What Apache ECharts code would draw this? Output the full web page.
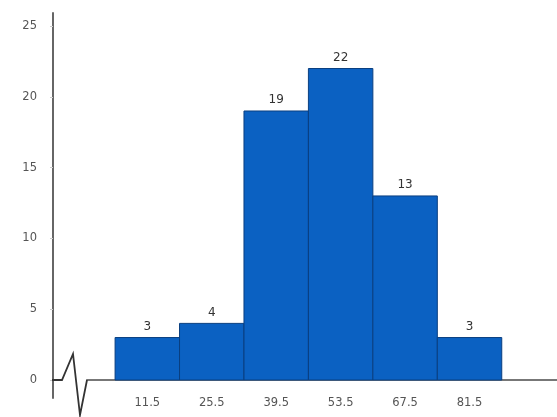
<!DOCTYPE html>
<html><head><meta charset="utf-8">
<script src="https://cdn.jsdelivr.net/npm/echarts@6/dist/echarts.min.js"></script>
<style>html,body{margin:0;padding:0;background:#fff}#c{width:557px;height:417px}</style>
</head><body><div id="c"></div>
<script>
const midpoints = [11.5, 25.5, 39.5, 53.5, 67.5, 81.5];
const frequencies = [3, 4, 19, 22, 13, 3];
const classWidth = 14;
const yTicks = [0, 5, 10, 15, 20, 25];

const chart = echarts.init(document.getElementById('c'));
const data = midpoints.map((m, i) => [m, frequencies[i]]);
const font = 'DejaVu Sans';
chart.setOption({
  animation: false,
  grid: {left: 87, right: 0, top: 13, bottom: 19, containLabel: false, outerBoundsMode: 'none'},
  xAxis: {
    type: 'value', min: -1.6, max: 100.5,
    splitLine: {show: false},
    axisLine: {show: true, onZero: true, lineStyle: {color: '#777', width: 2}},
    axisTick: {show: false},
    axisLabel: {customValues: midpoints, color: '#555', fontFamily: font, fontSize: 11.5, margin: -1}
  },
  yAxis: {
    type: 'value', min: -1.27, max: 25.92, offset: 34,
    splitLine: {show: false},
    axisLine: {show: true, onZero: false, lineStyle: {color: '#666', width: 2}},
    axisTick: {show: true, customValues: yTicks, length: 3, lineStyle: {color: '#ccc'}},
    axisLabel: {customValues: yTicks, color: '#555', fontFamily: font, fontSize: 11.5, margin: 16}
  },
  series: [{
    type: 'custom',
    data: data,
    renderItem: function (params, api) {
      const m = api.value(0), f = api.value(1);
      const p0 = api.coord([m - classWidth / 2, f]);
      const p1 = api.coord([m + classWidth / 2, 0]);
      const top = api.coord([m, f]);
      return {
        type: 'group',
        children: [{
          type: 'rect',
          shape: {x: p0[0], y: p0[1], width: p1[0] - p0[0], height: p1[1] - p0[1]},
          style: {fill: '#0b61c2', stroke: '#0a3f80', lineWidth: 1}
        }, {
          type: 'text',
          style: {text: String(f), x: top[0], y: top[1] - 5, align: 'center', verticalAlign: 'bottom',
                  fill: '#333', font: '12px "DejaVu Sans"'}
        }]
      };
    },
    z: 3
  }],
  graphic: [{
    type: 'polyline',
    shape: {points: [[52, 380], [62, 380], [73, 354], [80, 415], [87, 380]]},
    style: {stroke: '#333', lineWidth: 1.8, fill: null},
    z: 10
  }]
});
</script></body></html>
